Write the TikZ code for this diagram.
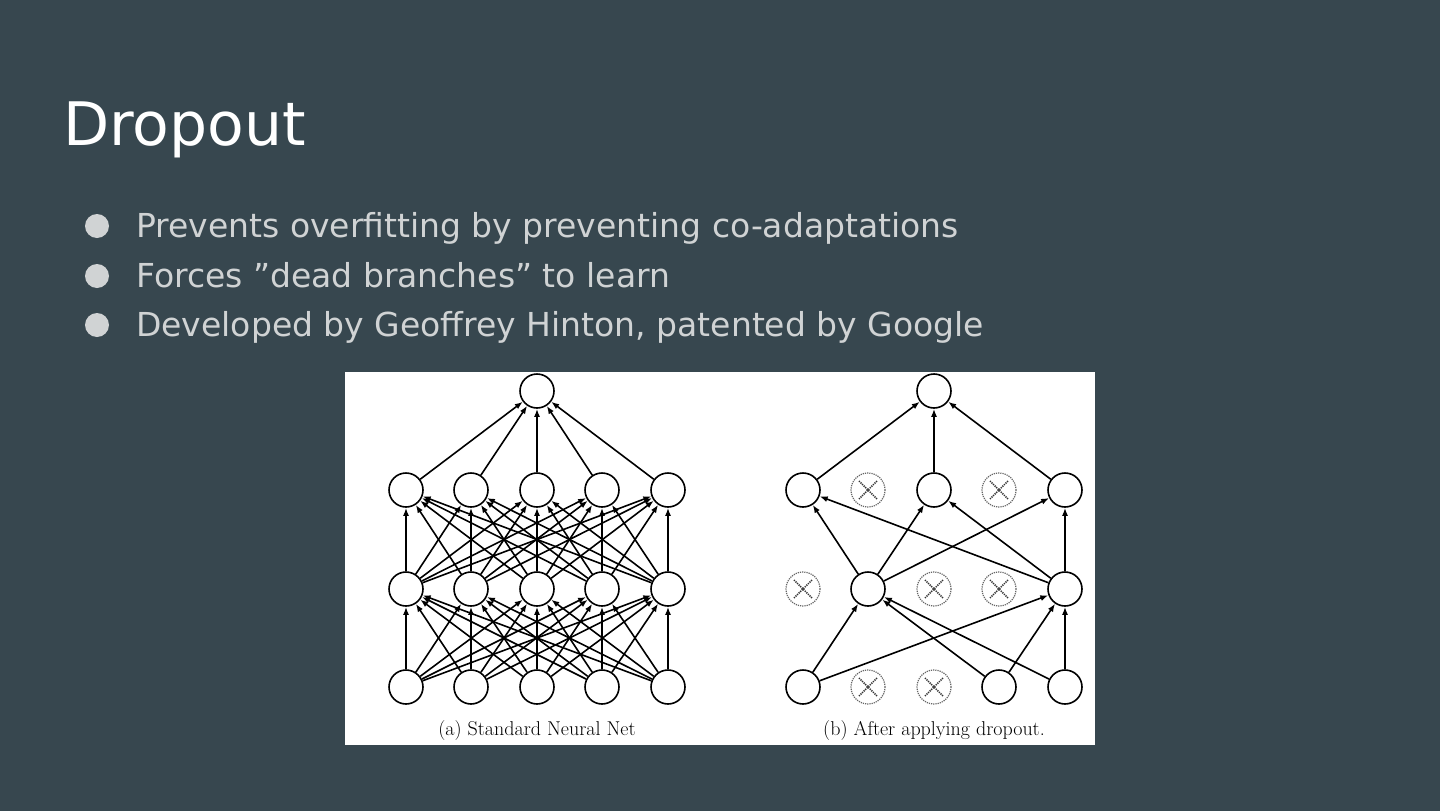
\documentclass[tikz,border=0pt]{standalone}
\usepackage{fontspec}
\setmainfont{DejaVu Sans}
\newfontfamily\capfont{Latin Modern Roman}
\usetikzlibrary{arrows.meta}
\definecolor{slidebg}{HTML}{37474F}
\definecolor{bullettext}{HTML}{D0D3D4}
\tikzset{
  unit/.style={circle, draw, line width=1.6pt, fill=white, minimum size=34pt, inner sep=0pt},
  dropped/.style={circle, draw=black!60, densely dotted, line width=1.2pt, minimum size=34pt, inner sep=0pt,
    path picture={\draw[line width=1.6pt, black!80] ([shift={(-9pt,-9pt)}]path picture bounding box.center) -- ++(18pt,18pt)
      ([shift={(-9pt,9pt)}]path picture bounding box.center) -- ++(18pt,-18pt);}},
  link/.style={-{Latex[length=8pt,width=6pt]}, line width=1.6pt},
  bullet/.style={anchor=base west, text=bullettext, font=\fontsize{33}{40}\selectfont}
}
\begin{document}
\begin{tikzpicture}[x=1pt, y=-1pt]
\fill[slidebg] (0,0) rectangle (1440,811);
\useasboundingbox (0,0) rectangle (1440,811);
\node[anchor=base west, text=white, font=\fontsize{60}{70}\selectfont, inner sep=0pt] (title) at (63,145) {Dropout};
\foreach \y/\txt [count=\i] in {237/{Prevents overfitting by preventing co-adaptations},
  287/{Forces "dead branches" to learn},
  336/{Developed by Geoffrey Hinton, patented by Google}} {
  \fill[bullettext] (97,\y-11) circle (12);
  \node[bullet, inner sep=0pt] (b\i) at (136,\y) {\txt};
}
\fill[white] (345,372) rectangle (1095,745);
% (a) standard net
\foreach \x [count=\i] in {406,471,537,602,668} {
  \node[unit] (ai\i) at (\x,687) {};
  \node[unit] (ah\i) at (\x,589) {};
  \node[unit] (ag\i) at (\x,490) {};
}
\node[unit] (ao) at (537,391) {};
\foreach \i in {1,...,5} {
  \foreach \j in {1,...,5} {
    \draw[link] (ai\i) -- (ah\j);
    \draw[link] (ah\i) -- (ag\j);
  }
  \draw[link] (ag\i) -- (ao);
}
% (b) after dropout
\foreach \x [count=\i] in {803,868,934,999,1065} {
  \coordinate (bi\i) at (\x,687);
  \coordinate (bh\i) at (\x,589);
  \coordinate (bg\i) at (\x,490);
}
\foreach \n in {bi1,bi4,bi5,bh2,bh5,bg1,bg3,bg5} \node[unit] (n\n) at (\n) {};
\foreach \n in {bi2,bi3,bh1,bh3,bh4,bg2,bg4} \node[dropped] (n\n) at (\n) {};
\node[unit] (bo) at (934,391) {};
\foreach \s in {bi1,bi4,bi5} \foreach \t in {bh2,bh5} \draw[link] (n\s) -- (n\t);
\foreach \s in {bh2,bh5} \foreach \t in {bg1,bg3,bg5} \draw[link] (n\s) -- (n\t);
\foreach \s in {bg1,bg3,bg5} \draw[link] (n\s) -- (bo);
\node[font=\capfont\fontsize{20}{24}\selectfont] (capa) at (537,731) {(a) Standard Neural Net};
\node[font=\capfont\fontsize{20}{24}\selectfont] (capb) at (934,731) {(b) After applying dropout.};
\end{tikzpicture}
\end{document}
